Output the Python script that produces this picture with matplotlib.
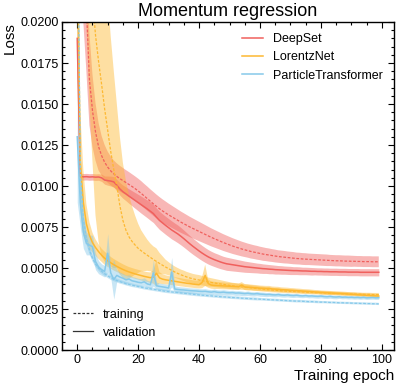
import matplotlib
matplotlib.use("Agg")
import matplotlib.pyplot as plt
import numpy as np
from matplotlib.lines import Line2D
from matplotlib.ticker import MultipleLocator, FormatStrFormatter

plt.rcParams['font.family'] = ['Liberation Sans', 'DejaVu Sans']

# ---- data (loss values in units of 1e-5) ----
LOSS_UNIT = 1e-5
EPOCHS = list(range(100))

MODELS = ["DeepSet", "LorentzNet", "ParticleTransformer"]

DS_TRAIN = [
    8000, 4000, 2700, 2100, 1650, 1460, 1330, 1240, 1185, 1145,
    1115, 1092, 1074, 1058, 1045, 1033, 1021, 1009, 997, 984,
    970, 955, 939, 923, 907, 891, 876, 861, 848, 836,
    824, 813, 802, 791, 780, 770, 760, 750, 741, 732,
    723, 714, 705, 696, 687, 679, 671, 663, 655, 648,
    641, 634, 628, 622, 616, 611, 606, 601, 597, 593,
    589, 585, 582, 579, 576, 573, 570, 568, 566, 564,
    562, 560, 558, 557, 555, 554, 553, 552, 551, 550,
    549, 548, 547, 546, 545, 544, 544, 543, 542, 542,
    541, 541, 540, 540, 539, 539, 539, 538, 538, 538]
DS_TRAIN_STD = [
    3000, 1500, 700, 400, 280, 220, 175, 145, 120, 105,
    95, 88, 82, 80, 78, 77, 76, 76, 75, 75,
    75, 75, 74, 74, 73, 73, 72, 72, 71, 70,
    69, 68, 67, 66, 65, 64, 63, 62, 61, 60,
    59, 58, 57, 56, 55, 54, 53, 52, 51, 50,
    49, 48, 47, 46, 45, 44, 43, 43, 42, 42,
    41, 41, 40, 40, 39, 39, 38, 38, 38, 37,
    37, 37, 36, 36, 36, 36, 35, 35, 35, 35,
    35, 35, 35, 34, 34, 34, 34, 34, 34, 34,
    34, 33, 33, 33, 33, 33, 33, 33, 33, 33]
DS_VAL = [
    1900, 1058, 1056, 1057, 1055, 1056, 1054, 1055, 1050, 1036,
    1033, 1030, 1025, 1005, 982, 965, 952, 938, 925, 912,
    899, 886, 873, 860, 846, 832, 810, 790, 775, 760,
    746, 732, 720, 708, 694, 679, 663, 647, 632, 618,
    604, 591, 579, 568, 559, 551, 544, 537, 531, 526,
    523, 520, 517, 514, 511, 508, 506, 504, 502, 500,
    498, 496, 495, 493, 492, 490, 489, 488, 487, 486,
    485, 484, 484, 483, 482, 482, 481, 480, 480, 479,
    479, 478, 478, 477, 477, 477, 476, 476, 476, 475,
    475, 475, 475, 474, 474, 474, 474, 474, 474, 474]
DS_VAL_STD = [
    250, 20, 20, 20, 20, 20, 20, 20, 22, 25,
    28, 30, 32, 35, 38, 40, 42, 44, 46, 48,
    50, 52, 53, 54, 55, 55, 55, 55, 55, 55,
    55, 55, 54, 54, 53, 52, 51, 50, 49, 48,
    47, 46, 45, 44, 43, 42, 42, 41, 40, 40,
    39, 38, 37, 36, 35, 34, 33, 32, 31, 30,
    30, 29, 28, 28, 27, 27, 26, 26, 25, 25,
    25, 24, 24, 24, 23, 23, 23, 23, 22, 22,
    22, 22, 22, 22, 22, 22, 22, 22, 22, 22,
    22, 22, 22, 22, 22, 22, 22, 22, 22, 22]

LN_TRAIN = [
    9000, 5000, 3500, 2800, 2450, 2150, 1920, 1760, 1620, 1470,
    1340, 1210, 1100, 1000, 880, 790, 730, 690, 662, 640,
    620, 605, 591, 578, 565, 552, 540, 528, 517, 506,
    496, 486, 476, 467, 459, 452, 445, 439, 434, 430,
    427, 423, 419, 415, 412, 409, 406, 403, 400, 397,
    394, 391, 389, 387, 385, 383, 381, 379, 377, 375,
    373, 371, 369, 367, 366, 364, 363, 361, 360, 359,
    358, 357, 356, 355, 354, 353, 352, 351, 350, 350,
    349, 348, 347, 346, 345, 344, 344, 343, 342, 342,
    341, 341, 340, 340, 339, 339, 339, 338, 338, 338]
LN_TRAIN_STD = [
    4000, 2000, 1200, 800, 950, 1000, 1100, 1100, 1050, 930,
    820, 700, 600, 500, 420, 350, 300, 255, 215, 180,
    150, 125, 110, 95, 85, 80, 80, 65, 55, 45,
    40, 36, 34, 33, 32, 32, 31, 31, 30, 30,
    30, 29, 28, 27, 26, 25, 24, 23, 22, 21,
    20, 19, 19, 18, 18, 17, 17, 16, 16, 15,
    15, 15, 14, 14, 14, 13, 13, 13, 13, 12,
    12, 12, 12, 12, 12, 11, 11, 11, 11, 11,
    11, 11, 11, 11, 10, 10, 10, 10, 10, 10,
    10, 10, 10, 10, 10, 10, 10, 10, 10, 10]
LN_VAL = [
    2500, 1150, 900, 770, 700, 655, 625, 600, 578, 560,
    545, 532, 520, 510, 500, 491, 483, 476, 470, 464,
    459, 454, 449, 445, 441, 445, 468, 440, 432, 428,
    425, 422, 419, 416, 413, 410, 407, 405, 402, 400,
    398, 412, 455, 405, 396, 394, 393, 392, 391, 390,
    389, 388, 387, 386, 396, 384, 383, 382, 380, 379,
    377, 376, 375, 376, 372, 371, 370, 368, 367, 366,
    364, 363, 362, 361, 359, 358, 357, 356, 354, 353,
    351, 350, 349, 348, 347, 346, 345, 344, 343, 341,
    340, 339, 337, 336, 335, 333, 332, 331, 330, 329]
LN_VAL_STD = [
    800, 300, 200, 120, 80, 60, 50, 45, 40, 40,
    38, 36, 35, 34, 33, 32, 31, 30, 30, 30,
    30, 30, 30, 30, 32, 40, 80, 35, 30, 28,
    27, 26, 26, 25, 25, 24, 24, 24, 23, 23,
    23, 35, 65, 25, 22, 22, 21, 21, 21, 20,
    20, 20, 19, 19, 18, 18, 18, 17, 17, 17,
    16, 16, 16, 15, 15, 15, 15, 14, 14, 14,
    14, 14, 13, 13, 13, 13, 13, 12, 12, 12,
    12, 12, 12, 12, 12, 12, 12, 12, 12, 12,
    12, 12, 12, 12, 12, 12, 12, 12, 12, 12]

PT_TRAIN = [
    3000, 1100, 800, 680, 610, 560, 525, 500, 480, 465,
    452, 441, 432, 424, 417, 411, 405, 400, 395, 391,
    387, 383, 379, 376, 373, 370, 367, 364, 361, 358,
    356, 354, 352, 350, 348, 346, 344, 342, 340, 338,
    336, 334, 333, 331, 330, 328, 327, 325, 324, 323,
    321, 320, 319, 318, 316, 315, 314, 313, 312, 311,
    310, 309, 308, 307, 306, 305, 304, 303, 302, 301,
    300, 299, 298, 298, 297, 296, 295, 295, 294, 293,
    292, 292, 291, 290, 290, 289, 288, 288, 287, 287,
    286, 285, 285, 284, 284, 283, 283, 282, 282, 281]
PT_TRAIN_STD = [
    800, 150, 60, 35, 25, 20, 18, 16, 15, 14,
    13, 13, 12, 12, 12, 11, 11, 11, 11, 10,
    10, 10, 10, 10, 10, 10, 10, 10, 10, 10,
    10, 10, 10, 10, 10, 10, 10, 10, 10, 10,
    9, 9, 9, 9, 9, 9, 9, 9, 9, 9,
    9, 9, 9, 9, 9, 9, 9, 9, 9, 9,
    8, 8, 8, 8, 8, 8, 8, 8, 8, 8,
    8, 8, 8, 8, 8, 8, 8, 8, 8, 8,
    7, 7, 7, 7, 7, 7, 7, 7, 7, 7,
    7, 7, 7, 7, 7, 7, 7, 7, 7, 7]
PT_VAL = [
    1300, 900, 720, 650, 640, 630, 540, 505, 490, 480,
    590, 470, 430, 455, 445, 438, 428, 433, 422, 418,
    413, 410, 416, 403, 398, 470, 392, 388, 385, 382,
    378, 475, 372, 369, 367, 366, 364, 362, 361, 360,
    358, 357, 358, 355, 353, 356, 352, 351, 353, 350,
    349, 350, 347, 348, 346, 344, 346, 343, 342, 344,
    341, 340, 338, 339, 337, 336, 338, 335, 334, 336,
    333, 332, 334, 331, 330, 332, 329, 330, 328, 327,
    329, 326, 325, 327, 324, 323, 325, 322, 323, 321,
    322, 320, 321, 319, 321, 318, 319, 320, 318, 319]
PT_VAL_STD = [
    400, 150, 100, 70, 60, 70, 50, 40, 35, 35,
    120, 30, 120, 35, 30, 28, 28, 26, 25, 25,
    24, 24, 24, 22, 22, 80, 22, 20, 20, 20,
    20, 90, 20, 18, 18, 18, 17, 17, 17, 17,
    16, 16, 16, 15, 15, 16, 15, 15, 15, 15,
    14, 14, 14, 14, 14, 13, 14, 13, 13, 13,
    13, 13, 13, 12, 12, 12, 12, 12, 12, 12,
    12, 12, 12, 11, 11, 11, 11, 11, 11, 11,
    11, 11, 11, 11, 11, 11, 10, 10, 10, 10,
    10, 10, 10, 10, 10, 10, 10, 10, 10, 10]

COLORS = ["#f0605d", "#fdb831", "#86c9ea"]

SERIES = {
    "DeepSet": (DS_TRAIN, DS_TRAIN_STD, DS_VAL, DS_VAL_STD),
    "LorentzNet": (LN_TRAIN, LN_TRAIN_STD, LN_VAL, LN_VAL_STD),
    "ParticleTransformer": (PT_TRAIN, PT_TRAIN_STD, PT_VAL, PT_VAL_STD),
}

# ---- figure ----
fig = plt.figure(figsize=(3.99, 3.88), dpi=100)
ax = fig.add_axes([0.1554, 0.0979, 0.8321, 0.8454])

x = np.array(EPOCHS)
dash = (0, (2.2, 1.3))
for name, color in zip(MODELS, COLORS):
    tr, trs, va, vas = [np.array(a) * LOSS_UNIT for a in SERIES[name]]
    ax.fill_between(x, tr - trs, tr + trs, color=color, alpha=0.45, lw=0)
    ax.plot(x, tr, color=color, lw=0.9, ls=dash)
    ax.fill_between(x, va - vas, va + vas, color=color, alpha=0.45, lw=0)
    ax.plot(x, va, color=color, lw=1.1)

ax.set_xlim(-5, 104)
ax.set_ylim(0, 0.02)

ax.xaxis.set_major_locator(MultipleLocator(20))
ax.xaxis.set_minor_locator(MultipleLocator(5))
ax.yaxis.set_major_locator(MultipleLocator(0.0025))
ax.yaxis.set_minor_locator(MultipleLocator(0.0005))
ax.yaxis.set_major_formatter(FormatStrFormatter('%.4f'))

ax.tick_params(which='both', direction='in', top=True, right=True, labelsize=9, width=0.8)
ax.tick_params(which='major', length=4.5)
ax.tick_params(which='minor', length=2.2)
ax.tick_params(axis='y', pad=2)
ax.tick_params(axis='x', pad=3)
for s in ax.spines.values():
    s.set_linewidth(1.0)

ax.set_title("Momentum regression", fontsize=13, pad=4)
ax.set_ylabel("Loss", loc='top', fontsize=11, labelpad=3)
ax.set_xlabel("Training epoch", loc='right', fontsize=11, labelpad=2)

model_handles = [Line2D([], [], color=c, lw=1.1) for c in COLORS]
leg1 = ax.legend(model_handles, MODELS, loc='upper right', frameon=False,
                 fontsize=9, handlelength=1.7)
ax.add_artist(leg1)
style_handles = [Line2D([], [], color='#333333', lw=0.9, ls=dash),
                 Line2D([], [], color='#333333', lw=0.9)]
ax.legend(style_handles, ["training", "validation"], loc='lower left',
          frameon=False, fontsize=9, handlelength=1.6)

fig.savefig("out.png", dpi=100)
